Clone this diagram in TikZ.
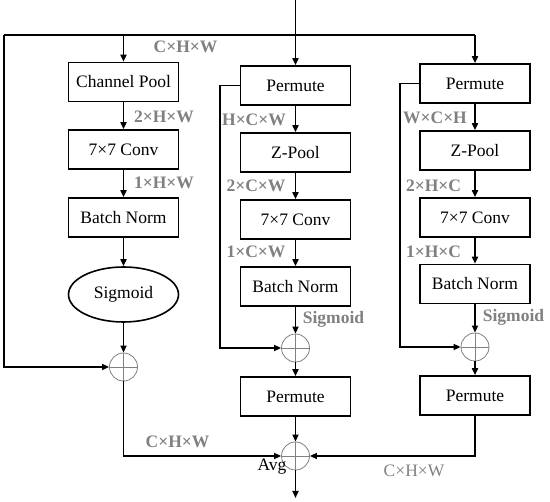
\documentclass[tikz,border=0pt]{standalone}
\usepackage{fontspec}
\setmainfont{Liberation Serif}
\usetikzlibrary{arrows.meta,shapes.geometric,calc}
\definecolor{lblgray}{HTML}{808080}
\begin{document}
\begin{tikzpicture}[x=1pt,y=-1pt,
  line/.style={line width=1.6pt,black},
  arr/.style={line width=1.6pt,black,-{Triangle[length=7pt,width=6pt]}},
  blk/.style={draw,line width=1.6pt,minimum width=110pt,minimum height=39pt,inner sep=0pt,font=\fontsize{17.5}{20}\selectfont},
  oval/.style={ellipse,draw,line width=1.6pt,minimum width=110pt,minimum height=55pt,inner sep=0pt,font=\fontsize{17.5}{20}\selectfont},
  plus/.style={circle,draw=lblgray,line width=0.8pt,minimum size=28pt,inner sep=0pt,
    path picture={\draw[lblgray,line width=0.8pt] (path picture bounding box.north) -- (path picture bounding box.south) (path picture bounding box.west) -- (path picture bounding box.east);}},
  lbl/.style={text=lblgray,font=\fontsize{17.5}{20}\selectfont\bfseries,inner sep=0pt},
  lblr/.style={text=lblgray,font=\fontsize{17.5}{20}\selectfont,inner sep=0pt},
  txt/.style={font=\fontsize{17.5}{20}\selectfont,inner sep=0pt}]
\useasboundingbox (0,0) rectangle (550,502);
% left branch
\node[blk] (cp) at (123.5,82) {Channel Pool};
\node[blk] (c1) at (123.5,149.5) {7×7 Conv};
\node[blk] (bn1) at (123.5,217.5) {Batch Norm};
\node[oval] (sig) at (123.5,294.5) {Sigmoid};
\node[plus] (p1) at (123.5,367) {};
% middle branch
\node[blk] (pm2) at (295.5,85.5) {Permute};
\node[blk] (zp2) at (295.5,152.5) {Z-Pool};
\node[blk] (cv2) at (295.5,219.5) {7×7 Conv};
\node[blk] (bn2) at (295.5,286.5) {Batch Norm};
\node[plus] (p2) at (295.5,348) {};
\node[blk] (pmb2) at (295.5,396.5) {Permute};
\node[plus] (avg) at (295.5,456) {};
% right branch
\node[blk] (pm3) at (475,83.5) {Permute};
\node[blk] (zp3) at (475,150.5) {Z-Pool};
\node[blk] (cv3) at (475,217.5) {7×7 Conv};
\node[blk] (bn3) at (475,284) {Batch Norm};
\node[plus] (p3) at (475,347) {};
\node[blk] (pmb3) at (475,395.5) {Permute};
% coordinates
\coordinate (in) at (295.5,0);
\coordinate (tl) at (4,35);
\coordinate (tr) at (475,35);
\coordinate (b2) at (220,85.5);
\coordinate (b3) at (400,83.5);
\coordinate (out) at (295.5,498);
% connectors
\draw[arr] (in) -- (pm2);
\draw[line] (tl) -- (tr);
\draw[arr] (tr) -- (pm3);
\draw[arr] (cp |- tl) -- (cp);
\draw[arr] (tl) |- (p1);
\draw[arr] (cp) -- (c1);
\draw[arr] (c1) -- (bn1);
\draw[arr] (bn1) -- (sig);
\draw[arr] (sig) -- (p1);
\draw[arr] (p1) |- (avg);
\draw[arr] (pm2) -- (zp2);
\draw[arr] (zp2) -- (cv2);
\draw[arr] (cv2) -- (bn2);
\draw[arr] (bn2) -- (p2);
\draw[arr] (p2) -- (pmb2);
\draw[arr] (pmb2) -- (avg);
\draw[arr] (pm2.west) -- (b2) |- (p2);
\draw[arr] (pm3) -- (zp3);
\draw[arr] (zp3) -- (cv3);
\draw[arr] (cv3) -- (bn3);
\draw[arr] (bn3) -- (p3);
\draw[arr] (p3) -- (pmb3);
\draw[arr] (pm3.west) -- (b3) |- (p3);
\draw[arr] (pmb3) |- (avg);
\draw[arr] (avg) -- (out);
% labels
\node[lbl] (l1) at (185.5,47) {C×H×W};
\node[lbl] (l2) at (164,117) {2×H×W};
\node[lbl] (l3) at (164,183) {1×H×W};
\node[lbl] (l4) at (254,120) {H×C×W};
\node[lbl] (l5) at (256,186) {2×C×W};
\node[lbl] (l6) at (256,252) {1×C×W};
\node[lbl] (l7) at (333.5,319) {Sigmoid};
\node[lbl] (l8) at (435,118) {W×C×H};
\node[lbl] (l9) at (433.5,186) {2×H×C};
\node[lbl] (l10) at (433.5,252) {1×H×C};
\node[lbl] (l11) at (513.5,317) {Sigmoid};
\node[lbl] (l12) at (177.5,442) {C×H×W};
\node[txt] (l13) at (272,467) {Avg};
\node[lblr] (l14) at (414,471) {C×H×W};
\end{tikzpicture}
\end{document}
